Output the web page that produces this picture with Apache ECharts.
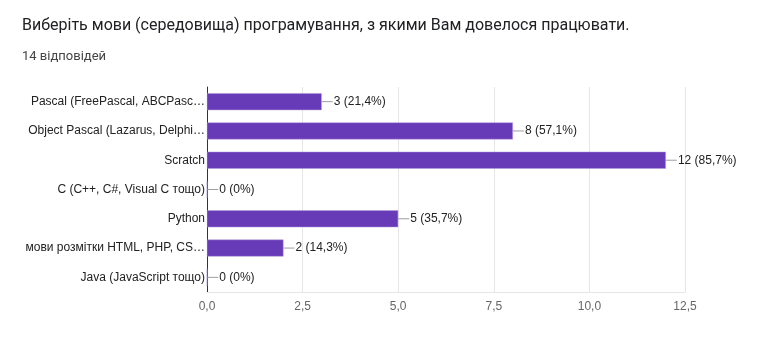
<!DOCTYPE html>
<html><head><meta charset="utf-8">
<script src="https://cdn.jsdelivr.net/npm/echarts@6/dist/echarts.min.js"></script>
<style>html,body{margin:0;padding:0;background:#fff}#c{width:768px;height:351px}</style>
</head><body><div id="c"></div>
<script>
const titleText = "Виберіть мови (середовища) програмування, з якими Вам довелося працювати.";
const subtitleText = "14 відповідей";
const categories = ["Pascal (FreePascal, ABCPasc…", "Object Pascal (Lazarus, Delphi…", "Scratch", "C (C++, C#, Visual C тощо)", "Python", "мови розмітки HTML, PHP, CS…", "Java (JavaScript тощо)"];
const counts = [3, 8, 12, 0, 5, 2, 0];
const percents = ["21,4%", "57,1%", "85,7%", "0%", "35,7%", "14,3%", "0%"];
const xTicks = [0, 2.5, 5, 7.5, 10, 12.5];

const chart = echarts.init(document.getElementById('c'));
chart.setOption({
  animation: false,
  title: [
    {text: titleText, left: 22, top: 18, padding: 0, textStyle: {fontFamily: 'Roboto', fontSize: 16, fontWeight: 'normal', color: '#202124'}},
    {text: subtitleText, left: 22, top: 50, padding: 0, textStyle: {fontFamily: 'Roboto', fontSize: 13, fontWeight: 'normal', color: '#444'}}
  ],
  grid: {left: 207, right: 83, top: 87, bottom: 59, containLabel: false},
  xAxis: {
    type: 'value', min: xTicks[0], max: xTicks[xTicks.length - 1], interval: 2.5,
    axisLine: {show: true, lineStyle: {color: '#e6e6e6'}},
    axisTick: {show: false},
    splitLine: {show: true, lineStyle: {color: '#e6e6e6'}},
    axisLabel: {color: '#666', fontFamily: 'Liberation Sans', fontSize: 12, margin: 9,
      formatter: v => v.toFixed(1).replace('.', ',')}
  },
  yAxis: {
    type: 'category', data: categories, inverse: true,
    axisLine: {show: true, lineStyle: {color: '#333', width: 1}},
    axisTick: {show: false},
    axisLabel: {color: '#222', fontFamily: 'Liberation Sans', fontSize: 12, margin: 2}
  },
  series: [{
    type: 'bar', data: counts, barWidth: 17,
    itemStyle: {color: '#673ab7', borderColor: '#b39ddb', borderWidth: 0.5},
    label: {
      show: true, position: 'right', distance: 0,
      formatter: p => '{l|}{t|' + p.value + ' (' + percents[p.dataIndex] + ')}',
      rich: {
        l: {width: 11, height: 1, backgroundColor: '#9e9e9e'},
        t: {color: '#222', fontFamily: 'Liberation Sans', fontSize: 12, padding: [0, 0, 0, 1]}
      }
    }
  }]
});
</script></body></html>
